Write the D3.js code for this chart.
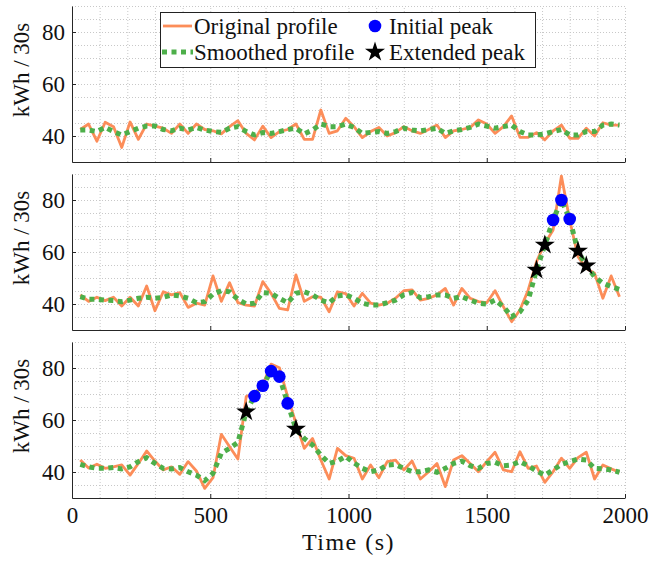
<!DOCTYPE html>
<html>
<head>
<meta charset="utf-8">
<script src="https://cdn.jsdelivr.net/npm/d3@7"></script>
<style>
  body { margin: 0; background: #fff; }
  svg { display: block; }
  text { font-family: "Liberation Serif", "DejaVu Serif", "Times New Roman", serif; fill: #111; }
</style>
</head>
<body>
<svg id="chart" width="651" height="562"></svg>
<script>
// Sample times (s), one reading every 30 s
const timeS = [30,60,90,120,150,180,210,240,270,300,330,360,390,420,450,480,510,540,570,600,
  630,660,690,720,750,780,810,840,870,900,930,960,990,1020,1050,1080,1110,1140,1170,1200,
  1230,1260,1290,1320,1350,1380,1410,1440,1470,1500,1530,1560,1590,1620,1650,1680,1710,1740,
  1770,1800,1830,1860,1890,1920,1950,1980];

// Panel 1 — no peak
const original1 = [42.5,44.6,38,45.3,43.6,35.6,45.4,38.7,44.6,43.8,43,41,44.6,41,44.6,42.5,42,40.8,43.6,45.9,
  41,38.5,43.8,39.4,41.7,42.5,44.6,38.7,38.7,50,41,42,46.8,43.6,39.4,41.7,43.3,40,41.3,43.6,
  42,41,42.5,44.2,39.4,42,42.5,43.3,46.2,44.6,41,43.6,47.7,39.5,39.5,41.3,38.5,42,44.2,39.1,
  39.1,43,40,45.1,44.2,44.2];
const smoothed1 = [42.3,42.3,41.7,43.3,41.7,40.4,41.7,43,43.8,43.8,42.5,42,43,42.3,43.3,42.3,41.7,41.4,43,43.6,
  41.7,40.4,41.3,41,41.7,42.5,43,40.8,42.3,44.6,43.6,43.6,44.6,43.3,41,41.4,41.7,41,41.7,43,
  42.3,42,42.5,43,41,42,42.5,43.3,44.6,43.8,43,43.6,44.2,41.7,40.4,40.4,40.8,41.7,42.5,40.4,
  40.4,41.7,41.7,44.2,44.6,44.2];

// Panel 2 — late peak
const original2 = [43.5,41,42.6,41.3,42.6,39.2,42.6,39.2,46.9,37.4,44.7,43.5,44.4,38.7,40.3,39.6,50.8,41,48.2,40.5,
  39.6,39.2,48.6,44.1,38.3,37.7,51.2,41,42.8,42.6,37,44.7,44,39.2,44.1,40.3,39.6,40.3,42.2,45.1,
  45.4,41.5,42.2,43.5,46,39.6,46,42.2,40.9,40.5,45.1,39,33.2,37.7,45.4,56.3,63.3,68.5,89.2,72.3,
  58.2,53.7,51.8,42.2,50.8,42.8];
const smoothed2 = [42.8,41.8,41.8,41.5,41.3,40.9,41.5,42.2,42.6,42.2,42.6,43.5,43.1,42.2,40.5,40.9,43.8,45.1,44.7,41.8,
  40,40.3,44.4,44.1,42.2,40.5,44.1,44.7,43.5,41.5,40.5,43.1,43.5,42.2,40.3,39.6,39.6,40.5,41.5,43.5,
  44.4,42.4,42.8,43.5,43.5,42.2,42.8,41.5,40.3,40,41.5,39,35.1,37,41.5,53.1,62.7,72.3,80,72.7,
  60.4,54.7,50.5,48,46.7,45.6];
const initialPeak2 = [1740,1770,1800];
const extendedPeak2 = [1680,1710,1830,1860];

// Panel 3 — early peak
const original3 = [44.6,41.5,43,41.4,42,42.7,38.8,43.3,48.1,44.2,40.8,42,39.1,44,40.4,33.7,37.8,54.5,49.7,45,
  69,70.3,73.5,81.5,80.1,69,58.7,49.1,52.9,44.6,37.3,49.1,46.3,45.3,37.3,42.7,37.8,44,44.6,40.8,
  44.2,37.3,40.1,43.3,34.4,44.6,46.3,43.3,40.1,44,47.6,40.8,40.1,47.8,41.4,42.3,36,40.1,45.3,41.4,
  45.5,47.6,37.3,42.7,41.2,39.9];
const smoothed3 = [42.9,42,41.4,41.4,41.7,41.2,42,44,45.5,43.3,41.4,41.2,41.7,40.1,38.8,36.7,39.5,47.2,49.1,51.4,
  63.2,69.2,73.2,78.8,76.7,66.4,56.5,52.9,50.4,46.5,43.3,44.2,46,43.5,41.4,40.1,40.8,42.7,42.9,41.4,
  40.1,40.1,40.8,39.9,41.4,43.3,44.2,42.4,41.4,43.3,43.7,42.4,42.7,44,42.4,40.4,38.8,40.8,42.9,44,
  45,44.6,41.4,41.2,40.8,39.9];
const initialPeak3 = [660,690,720,750,780];
const extendedPeak3 = [630,810];

// Axis ticks
const xTicks = [0,500,1000,1500,2000];
const yTicks = [40,60,80];
const xGrid = d3.range(0, 2001, 100);
const yGrid = d3.range(30, 91, 5);

const legendLabels = ["Original profile","Smoothed profile","Initial peak","Extended peak"];

const panels = [
  {orig: original1, smooth: smoothed1, init: [], ext: []},
  {orig: original2, smooth: smoothed2, init: initialPeak2, ext: extendedPeak2},
  {orig: original3, smooth: smoothed3, init: initialPeak3, ext: extendedPeak3}
];

const COL_ORIG = "#fc8d59";
const COL_SMOOTH = "#4daf4a";
const COL_AXIS = "#262626";
const FONT = '"Liberation Serif", "DejaVu Serif", "Times New Roman", serif';
const SMOOTH_W = 5, SMOOTH_DASH = "5,4.5";

const svg = d3.select("#chart");
const left = 72, right = 625;
const panelTops = [6, 174, 342];
const panelH = 156;

const x = d3.scaleLinear().domain([0, 2000]).range([left, right]);
const starSym = d3.symbol().type(d3.symbolStar).size(125);

panels.forEach((p, i) => {
  const top = panelTops[i], bottom = top + panelH;
  const y = d3.scaleLinear().domain([30, 90]).range([bottom, top]);
  const g = svg.append("g");

  // dotted grid
  g.append("g").attr("transform", `translate(0,${bottom})`)
    .call(d3.axisBottom(x).tickValues(xGrid).tickSize(-panelH).tickFormat(""))
    .call(a => a.select(".domain").remove())
    .call(a => a.selectAll("line").attr("stroke", "#c8c8c8").attr("stroke-dasharray", "1,2"));
  g.append("g").attr("transform", `translate(${left},0)`)
    .call(d3.axisLeft(y).tickValues(yGrid).tickSize(-(right - left)).tickFormat(""))
    .call(a => a.select(".domain").remove())
    .call(a => a.selectAll("line").attr("stroke", "#c8c8c8").attr("stroke-dasharray", "1,2"));

  // series
  const lineOf = d3.line().x((d, j) => x(timeS[j])).y(d => y(d));
  g.append("path").datum(p.orig).attr("d", lineOf)
    .attr("fill", "none").attr("stroke", COL_ORIG).attr("stroke-width", 2.8)
    .attr("stroke-linejoin", "round");
  g.append("path").datum(p.smooth).attr("d", lineOf)
    .attr("fill", "none").attr("stroke", COL_SMOOTH).attr("stroke-width", SMOOTH_W)
    .attr("stroke-dasharray", SMOOTH_DASH);

  const valAt = t => p.smooth[timeS.indexOf(t)];
  g.selectAll("circle.init").data(p.init).join("circle")
    .attr("cx", t => x(t)).attr("cy", t => y(valAt(t))).attr("r", 6.3)
    .attr("fill", "#0000ff");
  g.selectAll("path.ext").data(p.ext).join("path")
    .attr("d", starSym)
    .attr("transform", t => `translate(${x(t)},${y(valAt(t))})`)
    .attr("fill", "#000");

  // axes
  const ax = g.append("g").attr("transform", `translate(${left},0)`)
    .call(d3.axisLeft(y).tickValues(yTicks).tickSizeInner(-4).tickSizeOuter(0).tickPadding(7));
  const bx = g.append("g").attr("transform", `translate(0,${bottom})`)
    .call(d3.axisBottom(x).tickValues(xTicks).tickSizeInner(-4).tickSizeOuter(0).tickPadding(9)
      .tickFormat(i === 2 ? d3.format("d") : ""));
  [ax, bx].forEach(a => {
    a.attr("font-family", FONT).attr("font-size", 23);
    a.select(".domain").attr("stroke", COL_AXIS);
    a.selectAll("line").attr("stroke", COL_AXIS);
    a.selectAll("text").attr("fill", "#111").attr("font-family", FONT).attr("font-size", 23);
  });

  // y label
  g.append("text")
    .attr("transform", `translate(21,${(top + bottom) / 2 - 14}) rotate(-90)`)
    .attr("text-anchor", "middle").attr("dominant-baseline", "central")
    .attr("font-family", FONT).attr("font-size", 23)
    .text("kWh / 30s");
});

// x label
svg.append("text").attr("x", (left + right) / 2).attr("y", 550)
  .attr("text-anchor", "middle").attr("font-family", FONT).attr("font-size", 24)
  .attr("letter-spacing", 1.5).text("Time (s)");

// legend
const lg = svg.append("g");
lg.append("rect").attr("x", 160.5).attr("y", 12.5).attr("width", 375).attr("height", 55)
  .attr("fill", "#fff").attr("stroke", "#222").attr("stroke-width", 1);
const rowY = [26, 52];
lg.append("line").attr("x1", 163).attr("x2", 192).attr("y1", rowY[0]).attr("y2", rowY[0])
  .attr("stroke", COL_ORIG).attr("stroke-width", 2.8);
lg.append("line").attr("x1", 162).attr("x2", 193).attr("y1", rowY[1]).attr("y2", rowY[1])
  .attr("stroke", COL_SMOOTH).attr("stroke-width", SMOOTH_W).attr("stroke-dasharray", SMOOTH_DASH);
lg.append("circle").attr("cx", 375).attr("cy", rowY[0]).attr("r", 6.3).attr("fill", "#0000ff");
lg.append("path").attr("d", starSym).attr("transform", `translate(375,${rowY[1]})`).attr("fill", "#000");
const legendPos = [[194, rowY[0]], [194, rowY[1]], [389, rowY[0]], [389, rowY[1]]];
legendLabels.forEach((t, i) => {
  lg.append("text").attr("x", legendPos[i][0]).attr("y", legendPos[i][1])
    .attr("dominant-baseline", "central").attr("font-family", FONT).attr("font-size", 23).text(t);
});
</script>
</body>
</html>
